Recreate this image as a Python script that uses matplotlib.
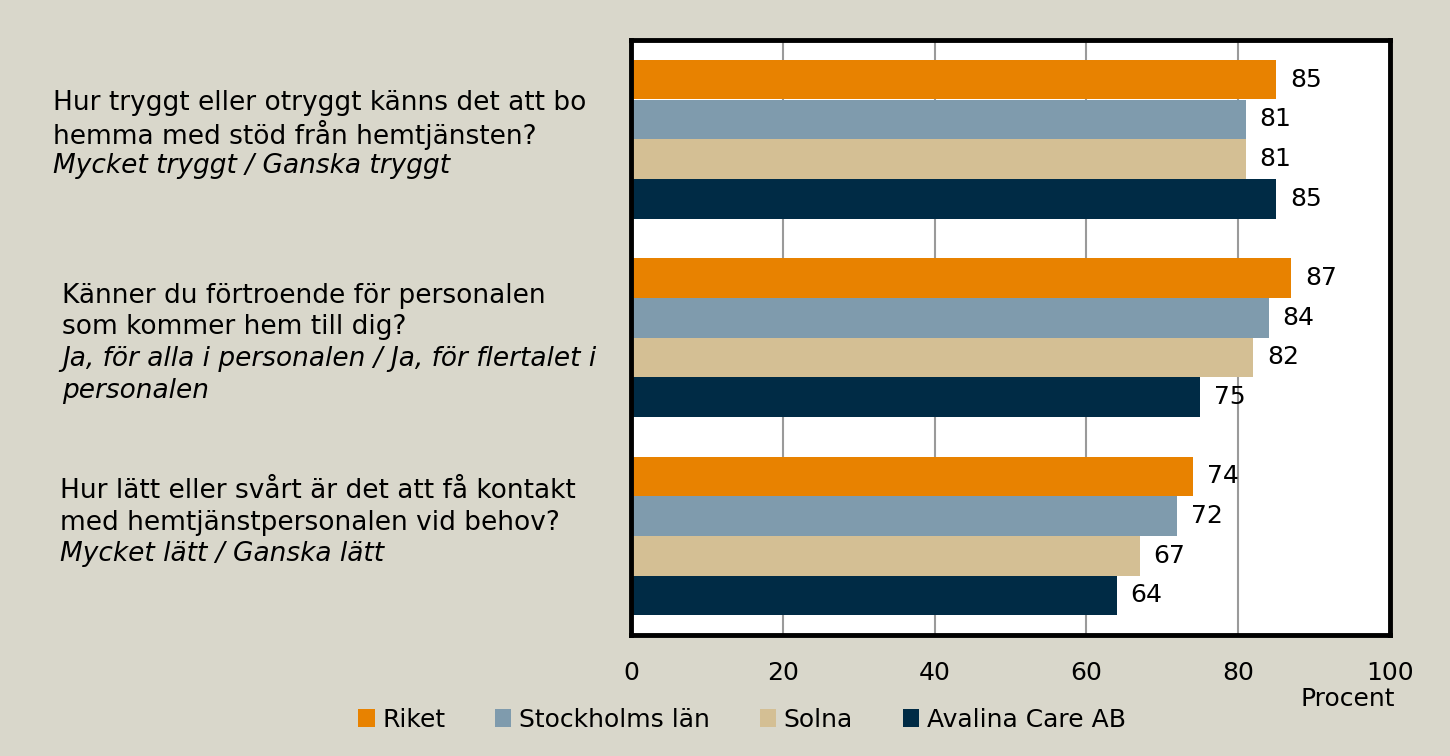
import numpy as np
import matplotlib.pyplot as plt
from matplotlib.patches import Patch

# Data
series = ['Riket', 'Stockholms län', 'Solna', 'Avalina Care AB']
riket = [85, 87, 74]
sthlm = [81, 84, 72]
solna = [81, 82, 67]
avalina = [85, 75, 64]
values = [riket, sthlm, solna, avalina]
colors = ['#E88200', '#7F9BAD', '#D4BF94', '#002B45']

questions = [
    ['Hur tryggt eller otryggt känns det att bo', 'hemma med stöd från hemtjänsten?'],
    ['Känner du förtroende för personalen', 'som kommer hem till dig?'],
    ['Hur lätt eller svårt är det att få kontakt', 'med hemtjänstpersonalen vid behov?'],
]
answers = [
    ['Mycket tryggt / Ganska tryggt'],
    ['Ja, för alla i personalen / Ja, för flertalet i', 'personalen'],
    ['Mycket lätt / Ganska lätt'],
]

bg = '#D9D7CB'
font = 'DejaVu Sans'
fs = 18

fig = plt.figure(figsize=(14.5, 7.56), dpi=100, facecolor=bg)
ax = fig.add_axes([631 / 1450, 121 / 756, 759 / 1450, 595 / 756])
ax.set_facecolor('white')

y = np.arange(len(riket))
h = 0.2
for i, (vals, col) in enumerate(zip(values, colors)):
    bars = ax.barh(y - 0.3 + i * h, vals, height=h, color=col, label=series[i], zorder=2)
    ax.bar_label(bars, padding=10, fontsize=fs, family=font, color='black')

ax.set_xlim(0, 100)
ax.set_ylim(-0.5, 2.5)
ax.invert_yaxis()
ax.set_xticks(range(0, 101, 20))
ax.set_yticks([])
ax.tick_params(axis='x', length=0, pad=19, labelsize=fs)
for lab in ax.get_xticklabels():
    lab.set_family(font)
ax.grid(axis='x', color='#9A9A9A', linewidth=1.5, zorder=1)
for sp in ax.spines.values():
    sp.set_linewidth(3.5)
    sp.set_color('black')

fig.text(1395 / 1450, 1 - 699 / 756, 'Procent', ha='right', va='center', fontsize=fs, family=font)

# question texts on the left
q_pos = [(53, 103), (62, 296), (60, 491)]
step = 31.5
for (qx, qy), q, a in zip(q_pos, questions, answers):
    k = 0
    for line in q:
        fig.text(qx / 1450, 1 - (qy + k * step) / 756, line, ha='left', va='center',
                 fontsize=19, family=font)
        k += 1
    for line in a:
        fig.text(qx / 1450, 1 - (qy + k * step) / 756, line, ha='left', va='center',
                 fontsize=19, family=font, style='italic')
        k += 1

handles = [Patch(facecolor=c, edgecolor='none') for c in colors]
fig.legend(handles, series, loc='center', bbox_to_anchor=(742 / 1450, 1 - 720 / 756),
           ncol=4, frameon=False, prop={'family': font, 'size': fs},
           handlelength=0.65, handleheight=0.75, handletextpad=0.3, columnspacing=2.0)

fig.savefig('out.png', dpi=100, facecolor=bg)
